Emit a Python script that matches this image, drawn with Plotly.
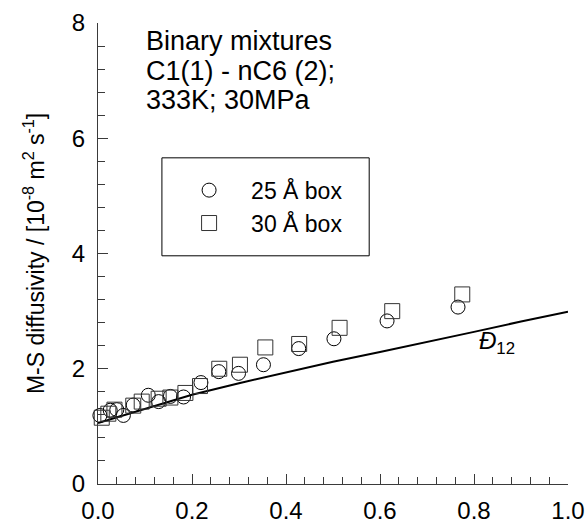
import plotly.graph_objects as go

# 25 Å box (circles)
x25 = [0.004, 0.026, 0.040, 0.054, 0.075, 0.107, 0.129, 0.154, 0.182, 0.219, 0.257, 0.299, 0.352, 0.427, 0.502, 0.615, 0.766]
y25 = [1.19, 1.28, 1.29, 1.19, 1.37, 1.54, 1.43, 1.52, 1.51, 1.76, 1.95, 1.92, 2.07, 2.35, 2.52, 2.83, 3.07]
# 30 Å box (squares)
x30 = [0.008, 0.022, 0.035, 0.075, 0.093, 0.129, 0.154, 0.186, 0.217, 0.258, 0.302, 0.356, 0.428, 0.514, 0.626, 0.775]
y30 = [1.15, 1.22, 1.29, 1.36, 1.43, 1.48, 1.50, 1.58, 1.70, 2.00, 2.07, 2.37, 2.43, 2.71, 3.00, 3.29]
# M-S diffusivity curve D12
xline = [0.0, 0.1, 0.2, 0.3, 0.4, 0.5, 0.6, 0.7, 0.8, 0.9, 1.0]
yline = [1.06, 1.31, 1.55, 1.75, 1.94, 2.12, 2.29, 2.46, 2.64, 2.82, 2.99]

xticks = [0.0, 0.2, 0.4, 0.6, 0.8, 1.0]
xticklabels = ["0.0", "0.2", "0.4", "0.6", "0.8", "1.0"]
yticks = [0, 2, 4, 6, 8]
yticklabels = ["0", "2", "4", "6", "8"]

FONT = "Arial, Liberation Sans, sans-serif"
AX = "#3a3a3a"

fig = go.Figure()
fig.add_trace(go.Scatter(x=xline, y=yline, mode="lines", line=dict(color="black", width=2),
                         showlegend=False, cliponaxis=False))
fig.add_trace(go.Scatter(x=x25, y=y25, mode="markers", name="25 Å box", cliponaxis=False,
                         marker=dict(symbol="circle-open", size=14, color="black", line=dict(width=1, color="black"))))
fig.add_trace(go.Scatter(x=x30, y=y30, mode="markers", name="30 Å box", cliponaxis=False,
                         marker=dict(symbol="square-open", size=15, color="#333", line=dict(width=1, color="#333"))))

axis_common = dict(showgrid=False, zeroline=False, showline=True, linecolor=AX, linewidth=1,
                   ticks="inside", ticklen=10, tickcolor=AX, tickwidth=1,
                   tickfont=dict(family=FONT, size=24, color="black"))

fig.update_xaxes(range=[0, 1], tickvals=xticks, ticktext=xticklabels,
                 minor=dict(dtick=0.04, ticks="inside", ticklen=7, tickcolor=AX, showgrid=False),
                 ticklabelstandoff=5, **axis_common)
fig.update_yaxes(range=[0, 8], tickvals=yticks, ticktext=yticklabels,
                 minor=dict(dtick=0.4, ticks="inside", ticklen=7, tickcolor=AX, showgrid=False),
                 ticklabelstandoff=7, **axis_common)

fig.add_shape(type="rect", xref="x", yref="y", x0=0.136, x1=0.577, y0=3.96, y1=5.66,
              line=dict(color="black", width=1))

ann_font = dict(family=FONT, size=27, color="black")
fig.add_annotation(x=0.098, y=7.68, xref="x", yref="y", text="Binary mixtures", showarrow=False,
                   xanchor="left", yanchor="middle", font=ann_font)
fig.add_annotation(x=0.098, y=7.17, xref="x", yref="y", text="C1(1) - nC6 (2);", showarrow=False,
                   xanchor="left", yanchor="middle", font=ann_font)
fig.add_annotation(x=0.098, y=6.66, xref="x", yref="y", text="333K; 30MPa", showarrow=False,
                   xanchor="left", yanchor="middle", font=ann_font)
fig.add_annotation(x=0.806, y=2.45, xref="x", yref="y", text="<i>Đ</i><sub>12</sub>", showarrow=False,
                   xanchor="left", yanchor="middle", font=dict(family=FONT, size=24, color="black"))
fig.add_annotation(x=-0.137, y=0.5, xref="paper", yref="paper",
                   text="M-S diffusivity / [10<sup>-8</sup> m<sup>2</sup> s<sup>-1</sup>]",
                   textangle=-90, showarrow=False, xanchor="center", yanchor="middle",
                   font=dict(family=FONT, size=23, color="black"))

fig.update_layout(
    width=585, height=525,
    margin=dict(l=98, r=17, t=23, b=41, autoexpand=False),
    paper_bgcolor="white", plot_bgcolor="white",
    showlegend=True,
    legend=dict(x=0.147, y=0.684, xanchor="left", yanchor="top", bgcolor="rgba(0,0,0,0)",
                borderwidth=0, font=dict(family=FONT, size=23, color="black"),
                itemwidth=74, tracegroupgap=0),
)

fig.write_html("out.html")
